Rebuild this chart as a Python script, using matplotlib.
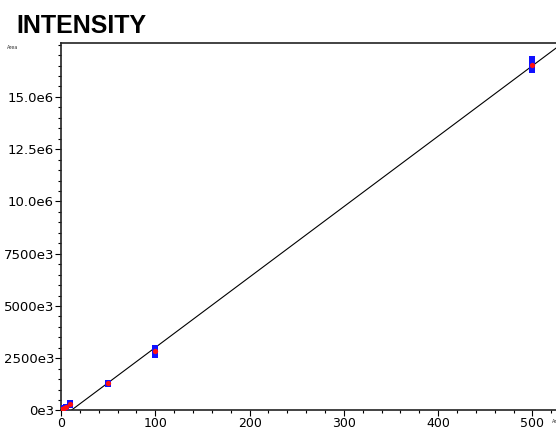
import numpy as np
import matplotlib
matplotlib.use('Agg')
import matplotlib.pyplot as plt
from matplotlib.ticker import MultipleLocator, FixedLocator, FixedFormatter

# concentracoes e areas (3 replicatas por nivel)
conc = [1, 3, 5, 10, 50, 100, 500]
rep1 = [0.06e6, 0.12e6, 0.17e6, 0.34e6, 1.33e6, 3.00e6, 16.80e6]
rep2 = [0.05e6, 0.11e6, 0.16e6, 0.30e6, 1.29e6, 2.82e6, 16.55e6]
rep3 = [0.04e6, 0.10e6, 0.15e6, 0.27e6, 1.27e6, 2.66e6, 16.30e6]

# reta de calibracao
slope = 33700.0
intercept = -357000.0

y_ticks = [0, 2.5e6, 5.0e6, 7.5e6, 10.0e6, 12.5e6, 15.0e6]
y_tick_labels = ['0e3', '2500e3', '5000e3', '7500e3', '10.0e6', '12.5e6', '15.0e6']
x_ticks = [0, 100, 200, 300, 400, 500]

reps = np.array([rep1, rep2, rep3])
media = reps.mean(axis=0)

fig = plt.figure(figsize=(5.56, 4.28), dpi=100)
ax = fig.add_axes([0.1097, 0.0409, 0.8903, 0.8586])

ax.set_xlim(0, 525)
ax.set_ylim(0, 17.58e6)

xs = np.linspace(0, 525, 200)
ax.plot(xs, slope * xs + intercept, color='black', linewidth=0.8, zorder=2)

for r in reps:
    ax.plot(conc, r, linestyle='none', marker='s', markersize=4.0,
            color='#1010ff', markeredgewidth=0, zorder=3)
ax.plot(conc, media, linestyle='none', marker='o', markersize=3.8,
        color='#ff1010', markeredgewidth=0, zorder=4)

ax.yaxis.set_major_locator(FixedLocator(y_ticks))
ax.yaxis.set_major_formatter(FixedFormatter(y_tick_labels))
ax.yaxis.set_minor_locator(MultipleLocator(0.5e6))
ax.xaxis.set_major_locator(FixedLocator(x_ticks))
ax.xaxis.set_minor_locator(MultipleLocator(20))

ax.tick_params(which='major', direction='out', length=4, width=0.8, labelsize=9.5, pad=1)
ax.tick_params(which='minor', direction='out', length=2.5, width=0.8)
ax.tick_params(axis='x', labelsize=9, pad=1)

ax.spines['right'].set_visible(False)
for s in ['left', 'top', 'bottom']:
    ax.spines[s].set_linewidth(1.2)
    ax.spines[s].set_color('#222222')

fig.text(0.029, 0.968, 'INTENSITY', fontsize=18, fontweight='bold',
         family='Liberation Sans', va='top', ha='left')
fig.text(0.013, 0.888, 'Area', fontsize=3.5, va='center', ha='left', color='#333333')
fig.text(0.993, 0.016, 'Amt', fontsize=3.5, va='center', ha='left', color='#333333')

plt.savefig('out.png', dpi=100)
